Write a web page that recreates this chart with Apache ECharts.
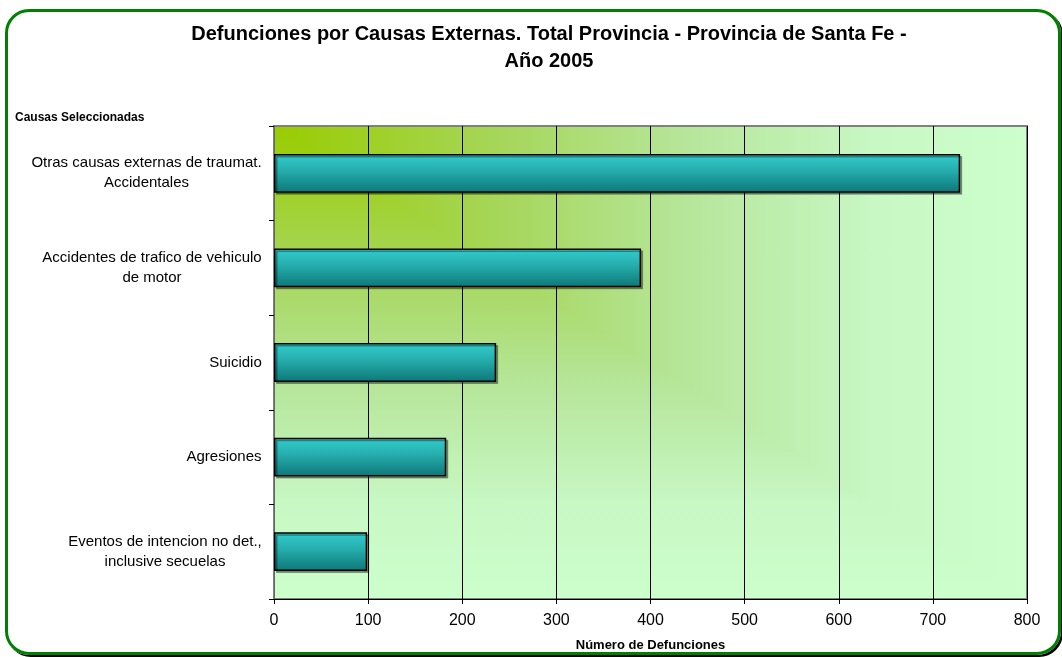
<!DOCTYPE html>
<html>
<head>
<meta charset="utf-8">
<script src="https://cdn.jsdelivr.net/npm/echarts@6/dist/echarts.min.js"></script>
<style>
  html, body { margin: 0; padding: 0; background: #fff; }
  #frame {
    position: absolute; left: 5px; top: 9px; width: 1050px; height: 640px;
    border: 3px solid #008000; border-radius: 24px;
    box-shadow: 2px 2px 0 #000;
  }
  /* fondo del area de trazado: degradado rectangular desde la esquina */
  #plotbg {
    position: absolute; left: 274px; top: 126px; width: 753px; height: 474px;
    background:
      linear-gradient(to right, #99cc00 0%, #a6d65a 30%, #b6e69a 55%, #c8f8c4 80%, #ccffcc 100%),
      linear-gradient(to bottom, #99cc00 0%, #a6d65a 30%, #b6e69a 55%, #c8f8c4 80%, #ccffcc 100%);
    background-blend-mode: lighten;
  }
  #chart { position: absolute; left: 0; top: 0; width: 1062px; height: 657px; }
</style>
</head>
<body>
<div id="frame"></div>
<div id="plotbg"></div>
<div id="chart"></div>
<script>
// datos
var categories = [
  'Otras causas externas de traumat.\nAccidentales',
  'Accidentes de trafico de vehiculo\nde motor',
  'Suicidio',
  'Agresiones',
  'Eventos de intencion no det.,\ninclusive secuelas'
];
var values = [729, 390, 236, 183, 99];
var xMin = 0, xMax = 800, xStep = 100;

var FONT = '"Liberation Sans", Arial, sans-serif';

// ancho de cada etiqueta para centrar las lineas
var ctx = document.createElement('canvas').getContext('2d');
ctx.font = '15px "Liberation Sans"';
var rich = {};
categories.forEach(function (c, i) {
  var w = Math.max.apply(null, c.split('\n').map(function (s) { return ctx.measureText(s).width; }));
  rich['l' + i] = { width: Math.ceil(w), align: 'center', fontSize: 15, lineHeight: 20, color: '#000', fontFamily: FONT };
});

var chart = echarts.init(document.getElementById('chart'));
chart.setOption({
  animation: false,
  title: [
    {
      text: 'Defunciones por Causas Externas. Total Provincia - Provincia de Santa Fe -\nAño 2005',
      left: 544, top: 16, textAlign: 'center',
      textStyle: { fontFamily: FONT, fontSize: 20, fontWeight: 'bold', color: '#000', lineHeight: 27 }
    },
    {
      text: 'Causas Seleccionadas',
      left: 10, top: 107,
      textStyle: { fontFamily: FONT, fontSize: 12, fontWeight: 'bold', color: '#000' }
    }
  ],
  grid: {
    left: 274, right: 35, top: 126, bottom: 58,
    show: true,
    borderColor: '#808080', borderWidth: 2,
    backgroundColor: 'transparent'
  },
  xAxis: {
    type: 'value', min: xMin, max: xMax, interval: xStep,
    name: 'Número de Defunciones', nameLocation: 'middle', nameGap: 40,
    nameTextStyle: { fontFamily: FONT, fontSize: 13, fontWeight: 'bold', color: '#000' },
    axisLine: { show: true, lineStyle: { color: '#000', width: 1 } },
    axisTick: { show: true, length: 5, lineStyle: { color: '#000' } },
    axisLabel: { fontFamily: FONT, fontSize: 16, color: '#000', margin: 14 },
    splitLine: { show: true, lineStyle: { color: '#000', width: 1 } }
  },
  yAxis: {
    type: 'category', data: categories, inverse: true,
    axisLine: { show: true, lineStyle: { color: '#666', width: 1 } },
    axisTick: { show: true, length: 5, lineStyle: { color: '#000' } },
    axisLabel: {
      margin: 12, align: 'right',
      formatter: function (v, i) {
        return v.split('\n').map(function (s) { return '{l' + i + '|' + s + '}'; }).join('\n');
      },
      rich: rich
    }
  },
  series: [{
    type: 'bar',
    data: values,
    barWidth: '41%',
    itemStyle: {
      color: new echarts.graphic.LinearGradient(0, 0, 0, 1, [
        { offset: 0, color: '#33cccc' },
        { offset: 0.4, color: '#27b0b0' },
        { offset: 1, color: '#0d7777' }
      ]),
      borderColor: '#000', borderWidth: 1.5,
      shadowColor: 'rgba(0,0,0,0.35)', shadowOffsetX: 2, shadowOffsetY: 2, shadowBlur: 0
    }
  }]
});
</script>
</body>
</html>
